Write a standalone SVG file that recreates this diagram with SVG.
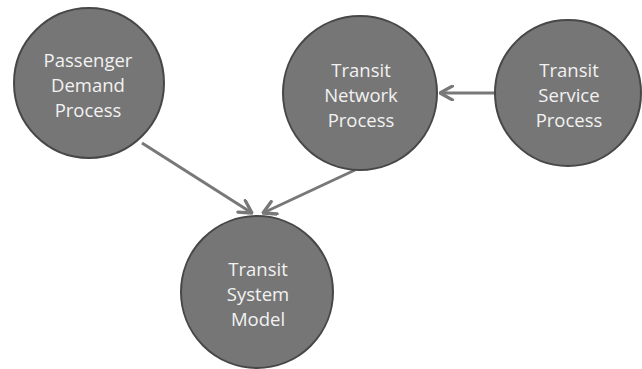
<svg xmlns="http://www.w3.org/2000/svg" width="642" height="369" viewBox="0 0 642 369">
  <style>
    .node circle { fill: #767676; stroke: #474747; stroke-width: 2; }
    .node text { fill: #f2f2f2; font-family: "Open Sans", "Liberation Sans", sans-serif; font-size: 18.5px; text-anchor: middle; }
    .edge { stroke: #787878; stroke-width: 3; fill: none; marker-end: url(#open); }
  </style>
  <defs>
    <marker id="open" viewBox="0 0 12 12" refX="11" refY="6" markerWidth="5.5" markerHeight="5.5" orient="auto" markerUnits="strokeWidth">
      <path d="M2,1 L11,6 L2,11" fill="none" stroke="#787878" stroke-width="2.4" stroke-linecap="round" stroke-linejoin="round"/>
    </marker>
  </defs>
  <rect width="642" height="369" fill="#ffffff"/>

  <g id="connectors">
    <line class="edge" x1="142" y1="143" x2="252" y2="213"/>
    <line class="edge" x1="355" y1="170" x2="263" y2="213"/>
    <line class="edge" x1="496" y1="93" x2="440" y2="93"/>
  </g>

  <g id="passenger-demand" class="node">
    <circle cx="89" cy="83" r="75"/>
    <text x="88" y="67">Passenger</text>
    <text x="88" y="92">Demand</text>
    <text x="88" y="117">Process</text>
  </g>

  <g id="transit-network" class="node">
    <circle cx="360" cy="93" r="77"/>
    <text x="361" y="77">Transit</text>
    <text x="361" y="102">Network</text>
    <text x="361" y="127">Process</text>
  </g>

  <g id="transit-service" class="node">
    <circle cx="568" cy="93" r="73"/>
    <text x="569" y="77">Transit</text>
    <text x="569" y="102">Service</text>
    <text x="569" y="127">Process</text>
  </g>

  <g id="transit-system" class="node">
    <circle cx="257" cy="292" r="76"/>
    <text x="258" y="276">Transit</text>
    <text x="258" y="301">System</text>
    <text x="258" y="326">Model</text>
  </g>
</svg>
